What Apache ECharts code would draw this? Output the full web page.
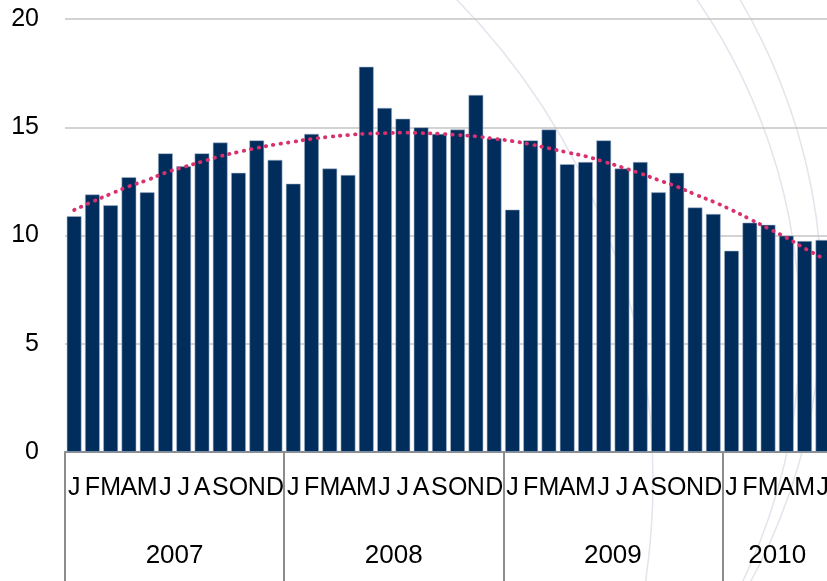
<!DOCTYPE html>
<html>
<head>
<meta charset="utf-8">
<script src="https://cdn.jsdelivr.net/npm/echarts@6/dist/echarts.min.js"></script>
<style>
    html, body { margin: 0; padding: 0; background: #fff; }
    #main { width: 827px; height: 581px; }
</style>
</head>
<body>
<div id="main"></div>
<script>
    // 月份首字母、年份及每年的月数
    var monthLetters = ["J", "F", "M", "A", "M", "J", "J", "A", "S", "O", "N", "D"];
    var years = ["2007", "2008", "2009", "2010"];
    var monthsPerYear = [12, 12, 12, 6];

    // 每年的柱状数据
    var values2007 = [10.9, 11.9, 11.4, 12.7, 12.0, 13.8, 13.2, 13.8, 14.3, 12.9, 14.4, 13.5];
    var values2008 = [12.4, 14.7, 13.1, 12.8, 17.8, 15.9, 15.4, 15.0, 14.7, 14.9, 16.5, 14.5];
    var values2009 = [11.2, 14.4, 14.9, 13.3, 13.4, 14.4, 13.1, 13.4, 12.0, 12.9, 11.3, 11.0];
    var values2010 = [9.3, 10.6, 10.5, 10.0, 9.75, 9.8];

    // 趋势线（点线）
    var trend = [11.18, 11.56, 11.92, 12.27, 12.56, 12.90, 13.16, 13.41, 13.66, 13.86, 14.04, 14.20,
        14.33, 14.46, 14.56, 14.64, 14.70, 14.73, 14.75, 14.73, 14.70, 14.64, 14.58, 14.47,
        14.36, 14.21, 14.03, 13.84, 13.66, 13.41, 13.15, 12.87, 12.56, 12.26, 11.90, 11.56,
        11.18, 10.76, 10.33, 9.90, 9.41, 8.95];

    var yTicks = [0, 5, 10, 15, 20];

    // 拼接分类和数值
    var categories = [];
    var values = [].concat(values2007, values2008, values2009, values2010);
    monthsPerYear.forEach(function(n) {
        for (var i = 0; i < n; i++) categories.push(monthLetters[i]);
    });

    // 年份标签放在每年月份的中间
    var yearLabelAt = {};
    var start = 0;
    monthsPerYear.forEach(function(n, i) {
        yearLabelAt[start + n / 2] = years[i];
        start += n;
    });
    // 年份分隔线的位置
    var yearBounds = {};
    start = 0;
    monthsPerYear.forEach(function(n) {
        yearBounds[start] = true;
        start += n;
    });

    var font = "Liberation Sans, Arial, sans-serif";
    var myChart = echarts.init(document.getElementById("main"));
    var option = {
        backgroundColor: "#fff",
        animation: false,
        grid: {
            left: 65,
            right: -5,
            top: 19,
            bottom: 129,
            containLabel: false,
            outerBoundsMode: "none"
        },
        // 背景装饰圆弧
        graphic: [
            { type: "circle", z: -10, silent: true, shape: { cx: -33, cy: 480, r: 686 }, style: { fill: "none", stroke: "#e3e4ec", lineWidth: 1.5 } },
            { type: "circle", z: -10, silent: true, shape: { cx: 220, cy: 330, r: 580 }, style: { fill: "none", stroke: "#e3e4ec", lineWidth: 1.5 } },
            { type: "circle", z: -10, silent: true, shape: { cx: 232, cy: 300, r: 590 }, style: { fill: "none", stroke: "#e3e4ec", lineWidth: 1.5 } }
        ],
        xAxis: [{
            type: "category",
            data: categories,
            boundaryGap: true,
            axisLine: { lineStyle: { color: "#8c8c8c", width: 2 } },
            axisTick: {
                show: true,
                length: 130,
                interval: function(index) { return !!yearBounds[index]; },
                lineStyle: { color: "#8c8c8c", width: 2 }
            },
            axisLabel: {
                interval: 0,
                margin: 24,
                color: "#000",
                fontSize: 25,
                fontFamily: font
            }
        }, {
            type: "value",
            position: "bottom",
            min: 0,
            max: categories.length,
            interval: 3,
            axisLine: { show: false },
            axisTick: { show: false },
            splitLine: { show: false },
            axisLabel: {
                margin: 91,
                color: "#000",
                fontSize: 26,
                fontFamily: font,
                showMinLabel: true,
                showMaxLabel: true,
                formatter: function(v) { return yearLabelAt[v] || ""; }
            }
        }],
        yAxis: {
            type: "value",
            min: yTicks[0],
            max: yTicks[yTicks.length - 1],
            interval: 5,
            axisLine: { show: false },
            axisTick: { show: false },
            axisLabel: {
                margin: 26,
                color: "#000",
                fontSize: 25,
                fontFamily: font
            },
            splitLine: { lineStyle: { color: "#c4c4c4", width: 1.5 } }
        },
        series: [{
            type: "bar",
            data: values,
            barCategoryGap: "18%",
            itemStyle: {
                color: "#012d5d",
                borderColor: "rgba(170,185,205,0.7)",
                borderWidth: 0.8
            },
            z: 2
        }, {
            type: "line",
            data: trend,
            smooth: true,
            showSymbol: false,
            lineStyle: {
                color: "#d9306e",
                width: 3.8,
                type: [0.5, 7],
                cap: "round"
            },
            z: 3
        }]
    };
    myChart.setOption(option);
</script>
</body>
</html>
